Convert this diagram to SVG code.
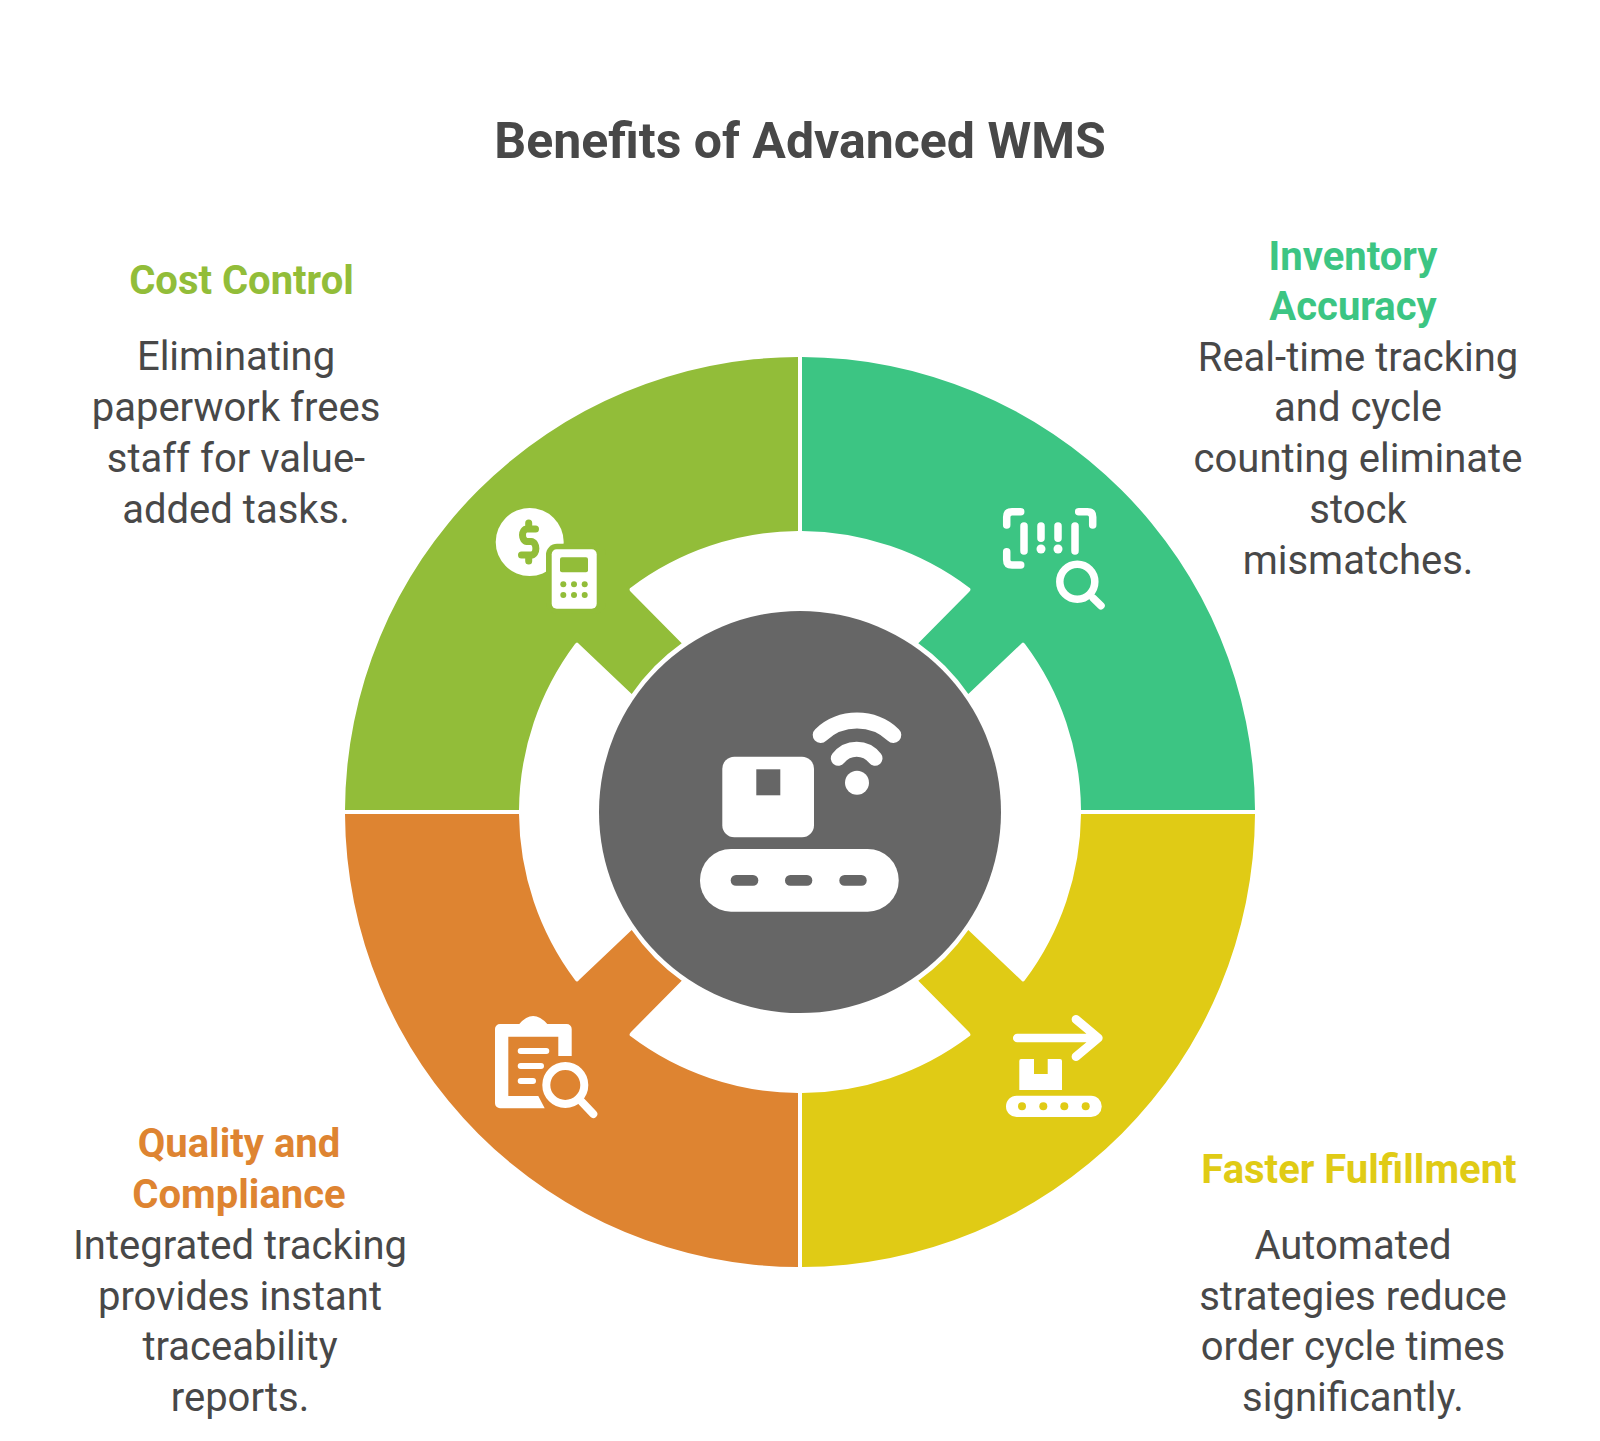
<svg xmlns="http://www.w3.org/2000/svg" width="1600" height="1441" viewBox="0 0 1600 1441">
<style>
text{font-family:Roboto,"Liberation Sans",sans-serif;text-anchor:middle}
.title{font-size:50px;font-weight:700;fill:#484848}
.head{font-size:40px;font-weight:700}
.body{font-size:40px;font-weight:400;fill:#484848}
.w{fill:#fff}
.ws{fill:none;stroke:#fff;stroke-linecap:round;stroke-linejoin:round}
</style>
<rect width="1600" height="1441" fill="#fff"/>
<text class="title" x="800" y="158">Benefits of Advanced WMS</text>

<g id="cost-control">
<path fill="#92BD39" d="M798 357A455 455 0 0 0 345 810H519A281 281 0 0 1 575 644Q577 641 579 644L631.7 694A206 206 0 0 1 681.7 643.3L631 592Q628 589 631 587.5A281 281 0 0 1 798 531Z"/>
<circle class="w" cx="529.7" cy="542" r="34"/>
<path fill="none" stroke="#92BD39" stroke-width="7" stroke-linecap="round" d="M535.5 529H527C521 529 521 541 527 541.5H531C537.5 542 537.5 555 531 555H521.5M528.7 523V529M528.7 555V561"/>
<rect x="546" y="543.7" width="60" height="70" rx="11" fill="#92BD39"/>
<rect class="w" x="551.7" y="549.3" width="45" height="59.4" rx="5"/>
<g fill="#92BD39"><rect x="560" y="557.3" width="28" height="15" rx="2"/>
<circle cx="563.3" cy="584.3" r="3"/><circle cx="574" cy="584.3" r="3"/><circle cx="584.7" cy="584.3" r="3"/>
<circle cx="563.3" cy="595" r="3"/><circle cx="574" cy="595" r="3"/><circle cx="584.7" cy="595" r="3"/></g>
<text class="head" x="241.5" y="294" fill="#92BD39">Cost Control</text>
<text class="body" x="236" y="370">Eliminating</text>
<text class="body" x="236" y="421">paperwork frees</text>
<text class="body" x="236" y="471.5">staff for value-</text>
<text class="body" x="236" y="522.5">added tasks.</text>
</g>

<g id="inventory-accuracy">
<path fill="#3CC583" d="M802 357A455 455 0 0 1 1255 810H1081A281 281 0 0 0 1025 644Q1023 641 1021 644L968.3 694A206 206 0 0 0 918.3 643.3L969 592Q972 589 969 587.5A281 281 0 0 0 802 531Z"/>
<path class="ws" stroke-width="7.5" d="M1006.7 525V517Q1006.7 511.7 1012 511.7H1020.7M1078.7 511.7H1087.4Q1092.7 511.7 1092.7 517V525M1006.7 551.7V559.7Q1006.7 565 1012 565H1020.7M1024 526V551M1075 526V551M1041 526V538.3M1058 526V538.3"/>
<circle class="w" cx="1041" cy="549" r="4.5"/><circle class="w" cx="1058" cy="549" r="4.5"/>
<circle class="ws" stroke-width="7.5" cx="1077.3" cy="581.7" r="17.5"/>
<path class="ws" stroke-width="7.5" d="M1093.3 598.3L1101 605.7"/>
<text class="head" x="1353" y="269.5" fill="#3CC583">Inventory</text>
<text class="head" x="1353" y="320" fill="#3CC583">Accuracy</text>
<text class="body" x="1358" y="370.5">Real-time tracking</text>
<text class="body" x="1358" y="421">and cycle</text>
<text class="body" x="1358" y="472">counting eliminate</text>
<text class="body" x="1358" y="522.5">stock</text>
<text class="body" x="1358" y="573.5">mismatches.</text>
</g>

<g id="quality-compliance">
<path fill="#DE8431" d="M798 1267A455 455 0 0 1 345 814H519A281 281 0 0 0 575 980Q577 983 579 980L631.7 930A206 206 0 0 0 681.7 980.7L631 1032Q628 1035 631 1036.5A281 281 0 0 0 798 1093Z"/>
<path class="w" d="M500 1024H519.3Q533 1008 547.3 1024H566.7A5 5 0 0 1 571.7 1029V1056H558.3V1036.7H508.3V1096H538.3L544.7 1108.3H500A5 5 0 0 1 495 1103.3V1029A5 5 0 0 1 500 1024Z"/>
<path class="ws" stroke-width="6" d="M520.7 1051H546.3M520.7 1066H541M520.7 1081H533"/>
<circle class="ws" stroke-width="8" cx="565.3" cy="1085" r="19"/>
<path class="ws" stroke-width="8" d="M581.7 1101.7L593.3 1114"/>
<text class="head" x="239" y="1157" fill="#DE8431">Quality and</text>
<text class="head" x="239" y="1208" fill="#DE8431">Compliance</text>
<text class="body" x="240" y="1259">Integrated tracking</text>
<text class="body" x="240" y="1310">provides instant</text>
<text class="body" x="240" y="1360">traceability</text>
<text class="body" x="240" y="1411">reports.</text>
</g>

<g id="faster-fulfillment">
<path fill="#E0CB15" d="M802 1267A455 455 0 0 0 1255 814H1081A281 281 0 0 1 1025 980Q1023 983 1021 980L968.3 930A206 206 0 0 1 918.3 980.7L969 1032Q972 1035 969 1036.5A281 281 0 0 1 802 1093Z"/>
<path class="ws" stroke-width="8.7" d="M1017.3 1038H1098M1076 1019.3L1098.3 1038L1076 1056.7"/>
<path class="w" d="M1021 1059H1034V1074H1047.7V1059H1060Q1062 1059 1062 1061V1090H1019.3V1061Q1019.3 1059 1021 1059Z"/>
<rect class="w" x="1006" y="1095.7" width="95.7" height="21.3" rx="10.6"/>
<g fill="#E0CB15"><circle cx="1022" cy="1106.3" r="4"/><circle cx="1043.3" cy="1106.3" r="4"/><circle cx="1064.3" cy="1106.3" r="4"/><circle cx="1085.7" cy="1106.3" r="4"/></g>
<text class="head" x="1359" y="1183" fill="#E0CB15">Faster Fulfillment</text>
<text class="body" x="1353" y="1259">Automated</text>
<text class="body" x="1353" y="1310">strategies reduce</text>
<text class="body" x="1353" y="1360">order cycle times</text>
<text class="body" x="1353" y="1411">significantly.</text>
</g>

<g id="center">
<circle cx="800" cy="812" r="201" fill="#666"/>
<rect class="w" x="722.3" y="756.7" width="91.7" height="80.6" rx="12"/>
<rect x="756.3" y="769.3" width="24" height="26" fill="#666"/>
<rect class="w" x="700" y="849" width="198.7" height="62.7" rx="31"/>
<g fill="#666"><rect x="730.7" y="875" width="27.6" height="10.7" rx="5.3"/><rect x="785" y="875" width="27.3" height="10.7" rx="5.3"/><rect x="839.3" y="875" width="27.4" height="10.7" rx="5.3"/></g>
<circle class="w" cx="857" cy="782.7" r="12"/>
<path class="ws" stroke-width="16" d="M820.7 735A53 53 0 0 1 893.3 735"/>
<path class="ws" stroke-width="15" d="M838.3 758.3A23 23 0 0 1 875 758.3"/>
</g>
</svg>
